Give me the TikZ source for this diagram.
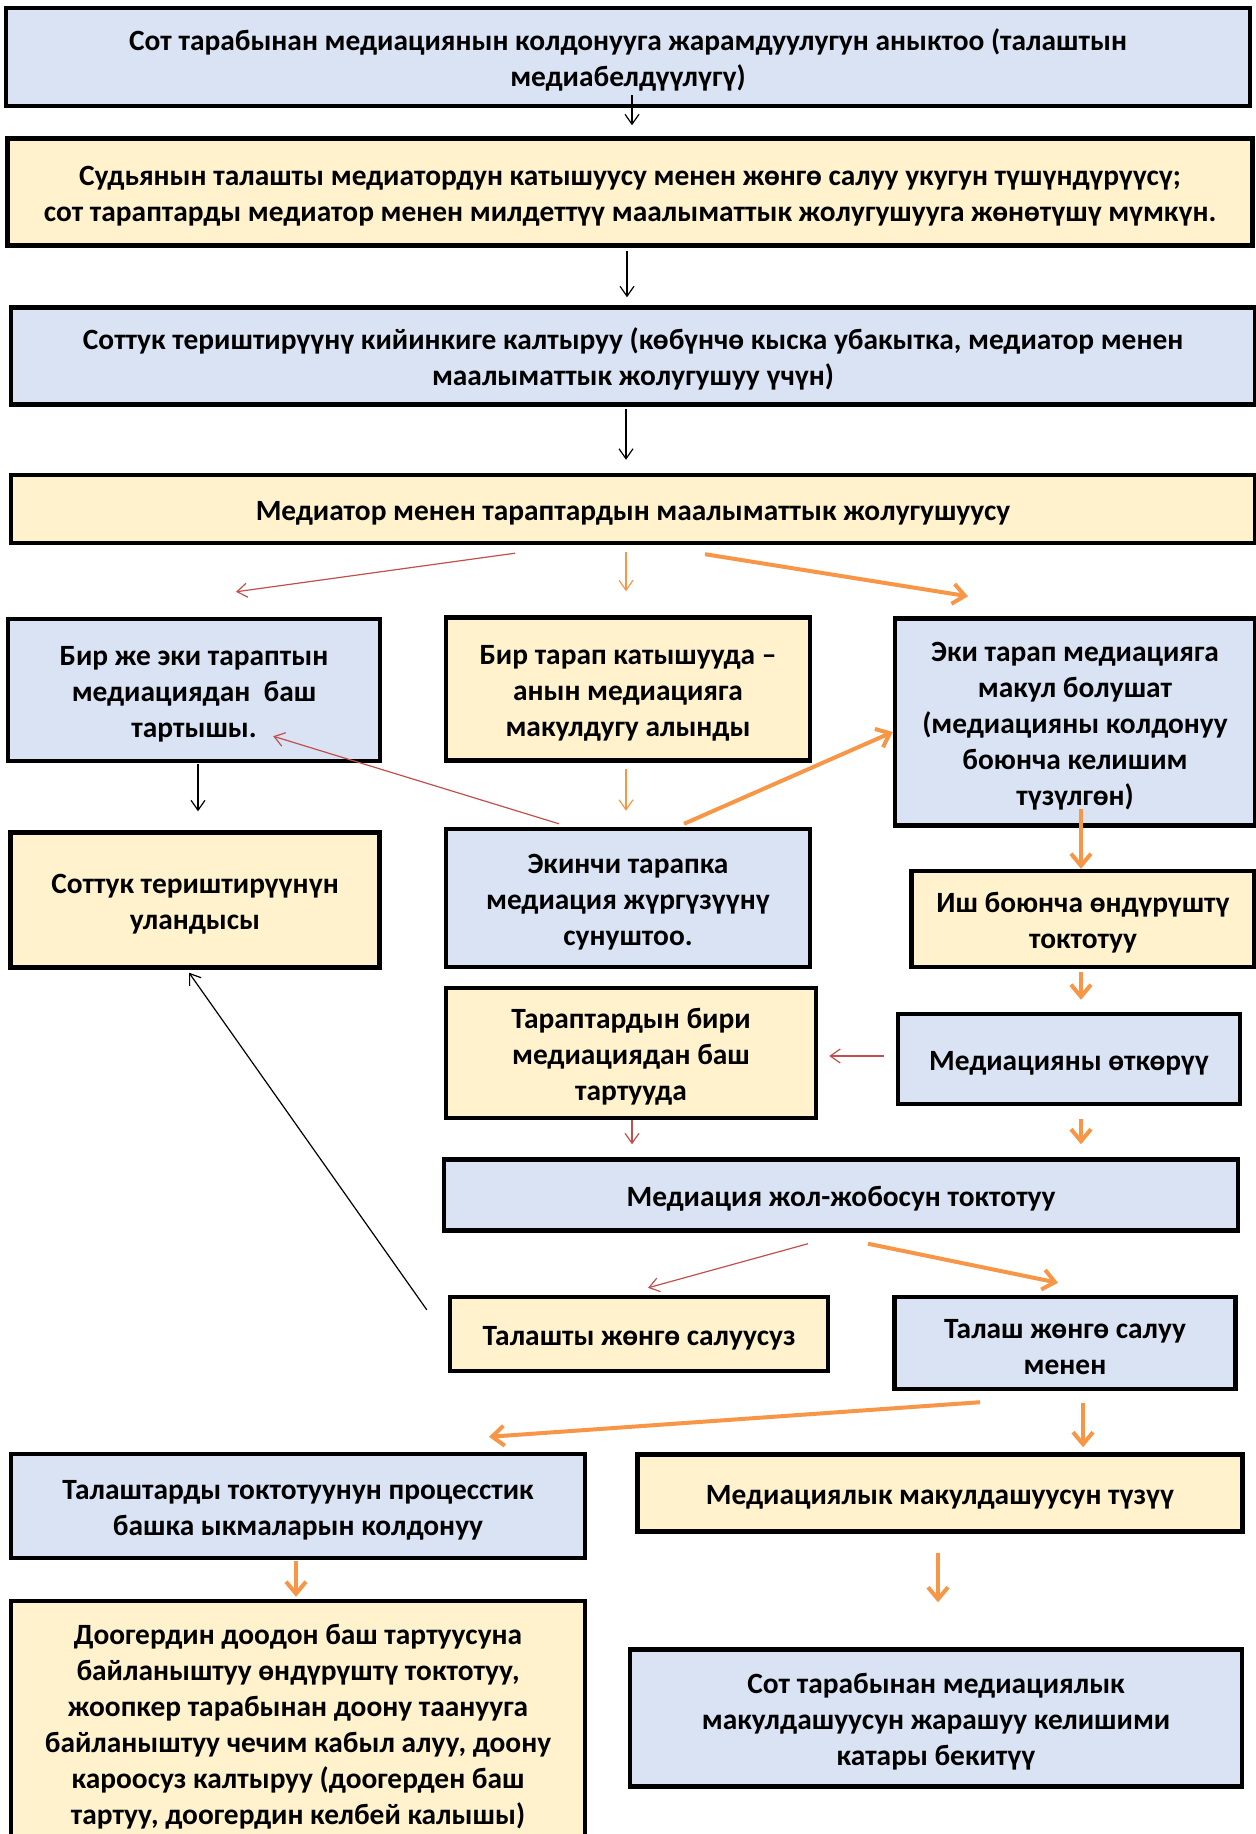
\documentclass[tikz,border=0pt]{standalone}
\usepackage{fontspec}
\setmainfont{Carlito}
\usetikzlibrary{arrows.meta}

\definecolor{boxblue}{HTML}{DAE3F3}
\definecolor{boxyellow}{HTML}{FFF2CC}
\definecolor{arrred}{HTML}{C0504D}
\definecolor{arrorange}{HTML}{F79646}

\begin{document}
\begin{tikzpicture}[x=0.5pt, y=-0.5pt,
  box/.style={draw=black, line width=2.2pt, align=flush center, inner sep=0pt,
              font=\fontsize{14.7}{18}\selectfont\bfseries,
              execute at begin node={\noindent\rule{0pt}{14pt}}},
  bluebox/.style={box, fill=boxblue},
  yellowbox/.style={box, fill=boxyellow},
  thinblack/.style={-{Straight Barb[length=5pt,width=7pt]}, line width=0.6pt, draw=black},
  thinred/.style={thinblack, draw=arrred},
  thinorange/.style={thinblack, draw=arrorange},
  thickorange/.style={-{Straight Barb[length=6pt,width=10pt]}, line width=2pt, draw=arrorange}]
 \useasboundingbox (0,0) rectangle (1256,1834);

 \node[bluebox,  name=Court,     text width=622pt,   minimum height=49pt]   at (628,57)   {Сот тарабынан медиациянын колдонууга жарамдуулугун аныктоо (талаштын\\ медиабелдүүлүгү)};
 \node[yellowbox,name=Explain,   text width=622.5pt, minimum height=53.5pt] at (630,192)  {Судьянын талашты медиатордун катышуусу менен жөнгө салуу укугун түшүндүрүүсү;\\ сот тараптарды медиатор менен милдеттүү маалыматтык жолугушууга жөнөтүшү мүмкүн.};
 \node[bluebox,  name=Postpone,  text width=622pt,   minimum height=48.5pt] at (633,356)  {Соттук териштирүүнү кийинкиге калтыруу (көбүнчө кыска убакытка, медиатор менен\\ маалыматтык жолугушуу үчүн)};
 \node[yellowbox,name=Meet,      text width=622pt,   minimum height=34pt]   at (633,509)  {Медиатор менен тараптардын маалыматтык жолугушуусу};

 \node[bluebox,  name=Refuse,    text width=186pt,   minimum height=71pt]   at (194,690)  {Бир же эки тараптын\\ медиациядан~~баш\\ тартышы.};
 \node[yellowbox,name=One,       text width=182pt,   minimum height=71.5pt] at (628,689)  {Бир тарап катышууда –\\ анын медиацияга\\ макулдугу алынды};
 \node[bluebox,  name=Both,      text width=180pt,   minimum height=103.5pt]at (1075,722) {Эки тарап медиацияга\\ макул болушат\\ (медиацияны колдонуу\\ боюнча келишим\\ түзүлгөн)};

 \node[yellowbox,name=Result,    text width=184.5pt, minimum height=67.5pt] at (195,900)  {Соттук териштирүүнүн\\ уландысы};
 \node[bluebox,  name=Offer,     text width=182pt,   minimum height=69pt]   at (628,898)  {Экинчи тарапка\\ медиация жүргүзүүнү\\ сунуштоо.};
 \node[yellowbox,name=Suspend,   text width=171.5pt, minimum height=48pt]   at (1083,919) {Иш боюнча өндүрүштү\\ токтотуу};

 \node[yellowbox,name=Withdraw,  text width=185pt,   minimum height=65pt]   at (631,1053) {Тараптардын бири\\ медиациядан баш\\ тартууда};
 \node[bluebox,  name=Conduct,   text width=171pt,   minimum height=45pt]   at (1069,1059){Медиацияны өткөрүү};
 \node[bluebox,  name=Terminate, text width=397pt,   minimum height=35.5pt] at (841,1195) {Медиация жол-жобосун токтотуу};

 \node[yellowbox,name=NoSettle,  text width=189pt,   minimum height=37pt]   at (639,1334) {Талашты жөнгө салуусуз};
 \node[bluebox,  name=Settled,   text width=170.5pt, minimum height=46pt]   at (1065,1343){Талаш жөнгө салуу\\ менен};

 \node[bluebox,  name=Other,     text width=287pt,   minimum height=52pt]   at (298,1506) {Талаштарды токтотуунун процесстик\\ башка ыкмаларын колдонуу};
 \node[yellowbox,name=Agreement, text width=302.5pt, minimum height=38.5pt] at (940,1493) {Медиациялык макулдашуусун түзүү};
 \node[yellowbox,name=Claims,    text width=287pt,   minimum height=122pt]  at (298,1723) {Доогердин доодон баш тартуусуна\\ байланыштуу өндүрүштү токтотуу,\\ жоопкер тарабынан доону таанууга\\ байланыштуу чечим кабыл алуу, доону\\ кароосуз калтыруу (доогерден баш\\ тартуу, доогердин келбей калышы)};
 \node[bluebox,  name=Approve,   text width=306pt,   minimum height=68.5pt] at (936,1718) {Сот тарабынан медиациялык\\ макулдашуусун жарашуу келишими\\ катары бекитүү};

 \draw[thinblack]   ([shift={(4,-13)}]Court.south)      -- ([shift={(2,-11)}]Explain.north);
 \draw[thinblack]   ([shift={(-3,3)}]Explain.south)     -- ([shift={(-6,-8)}]Postpone.north);
 \draw[thinblack]   ([shift={(-7,2)}]Postpone.south)    -- ([shift={(-7,-13)}]Meet.north);
 \draw[thinred]     ([shift={(-118,8)}]Meet.south)      -- ([shift={(42,-25)}]Refuse.north);
 \draw[thinorange]  ([shift={(-7,7)}]Meet.south)        -- ([shift={(-2,-24)}]One.north);
 \draw[thickorange] ([shift={(72,9)}]Meet.south)        -- ([shift={(-107,-20)}]Both.north);
 \draw[thinblack]   ([shift={(4,1)}]Refuse.south)       -- ([shift={(3,-19)}]Result.north);
 \draw[thinorange]  ([shift={(-2,6)}]One.south)         -- ([shift={(-2,-16)}]Offer.north);
 \draw[thinred]     ([shift={(-69,-3)}]Offer.north)     -- ([shift={(-109,-27)}]Refuse.south east);
 \draw[thickorange] ([shift={(56,-3)}]Offer.north)      -- ([shift={(0,10)}]Both.west);
 \draw[thickorange] ([shift={(6,-19)}]Both.south)       -- ([shift={(-2,0)}]Suspend.north);
 \draw[thickorange] ([shift={(-2,3)}]Suspend.south)     -- ([shift={(12,-12)}]Conduct.north);
 \draw[thinred]     ([shift={(-12,-3)}]Conduct.west)    -- ([shift={(11,3)}]Withdraw.east);
 \draw[thinred]     ([shift={(1,0)}]Withdraw.south)     -- ([shift={(-209,-13)}]Terminate.north);
 \draw[thickorange] ([shift={(12,13)}]Conduct.south)    -- ([shift={(240,-13)}]Terminate.north);
 \draw[thinblack]   ([shift={(-21,15)}]NoSettle.north west) -- ([shift={(-6,3)}]Result.south);
 \draw[thinred]     ([shift={(-33,11)}]Terminate.south) -- ([shift={(9,-7)}]NoSettle.north);
 \draw[thickorange] ([shift={(27,11)}]Terminate.south)  -- ([shift={(-7,-12)}]Settled.north);
 \draw[thickorange] ([shift={(-85,11)}]Settled.south)   -- ([shift={(191,-15)}]Other.north);
 \draw[thickorange] ([shift={(18,12)}]Settled.south)    -- ([shift={(143,-5)}]Agreement.north);
 \draw[thickorange] ([shift={(-2,1)}]Other.south)       -- ([shift={(-2,-2)}]Claims.north);
 \draw[thickorange] ([shift={(-2,19)}]Agreement.south)  -- ([shift={(2,-45)}]Approve.north);
\end{tikzpicture}
\end{document}
